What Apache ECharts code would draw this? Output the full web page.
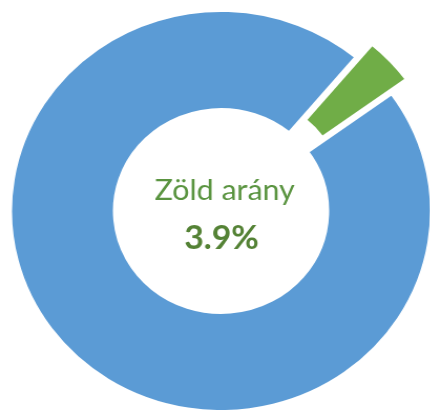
<!DOCTYPE html>
<html>
<head>
<meta charset="utf-8">
<script src="https://cdn.jsdelivr.net/npm/echarts@6/dist/echarts.min.js"></script>
<style>
html,body{margin:0;padding:0;background:#fff;overflow:hidden;}
#chart{width:410px;height:410px;transform:scaleX(1.05);transform-origin:0 0;}
</style>
</head>
<body>
<div id="chart"></div>
<script>
const categories = ['Zöld', 'Egyéb'];
const values = [3.9, 96.1];
const colors = ['#70AD47', '#5B9BD5'];
const centerTitle = 'Zöld arány';
const centerValue = values[0].toFixed(1) + '%';

const chart = echarts.init(document.getElementById('chart'), null, {renderer: 'canvas'});
chart.setOption({
  animation: false,
  backgroundColor: '#ffffff',
  series: [{
    type: 'pie',
    center: [210.5, 211],
    radius: [101, 201],
    startAngle: 50,
    clockwise: true,
    selectedMode: 'single',
    selectedOffset: 20,
    avoidLabelOverlap: false,
    label: {show: false},
    labelLine: {show: false},
    emphasis: {disabled: true},
    itemStyle: {borderColor: '#ffffff', borderWidth: 4},
    data: categories.map((c, i) => ({
      name: c,
      value: values[i],
      selected: i === 0,
      itemStyle: {color: colors[i]}
    }))
  }],
  graphic: [
    {type: 'text', x: 214, y: 191, silent: true,
     style: {text: centerTitle, font: '400 29px Lato', fill: '#5A9440', align: 'center', verticalAlign: 'middle'}},
    {type: 'text', x: 211, y: 239, silent: true,
     style: {text: centerValue, font: '700 32px Lato', fill: '#548235', align: 'center', verticalAlign: 'middle'}}
  ]
});
</script>
</body>
</html>
